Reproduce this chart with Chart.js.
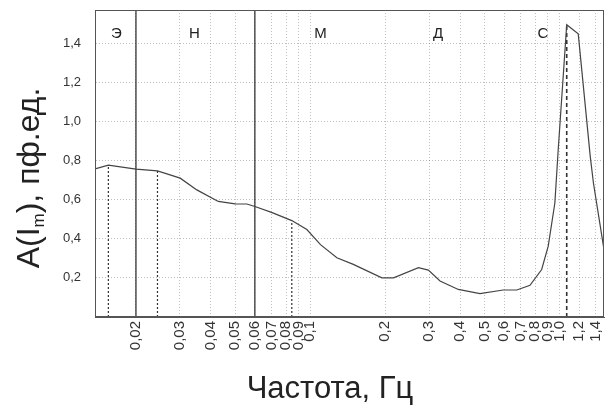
<!DOCTYPE html>
<html>
<head>
<meta charset="utf-8">
<script src="https://cdn.jsdelivr.net/npm/chart.js@4"></script>
<style>
  html, body { margin: 0; padding: 0; background: #fff; }
  #wrap { width: 608px; height: 408px; }
</style>
</head>
<body>
<div id="wrap"><canvas id="chart" width="608" height="408"></canvas></div>
<script>
// ---------- Data ----------
const freq = [0.0137, 0.0155, 0.02, 0.0244, 0.0301, 0.0351, 0.0428, 0.05, 0.0557, 0.06, 0.07, 0.0844, 0.097, 0.11,
  0.128, 0.149, 0.194, 0.216, 0.272, 0.298, 0.332, 0.393, 0.48, 0.595, 0.675, 0.762, 0.849, 0.902, 0.959, 0.989,
  1.07, 1.19, 1.33, 1.37, 1.51]; // Hz
const amp = [0.757, 0.777, 0.756, 0.747, 0.71, 0.65, 0.591, 0.579, 0.578, 0.565, 0.535, 0.493, 0.447, 0.37,
  0.303, 0.269, 0.2, 0.2, 0.252, 0.24, 0.184, 0.141, 0.12, 0.138, 0.138, 0.162, 0.243, 0.362, 0.583, 0.854,
  1.495, 1.448, 0.82, 0.684, 0.345]; // пф.ед.

const xTicks = [0.02, 0.03, 0.04, 0.05, 0.06, 0.07, 0.08, 0.09, 0.1, 0.2, 0.3, 0.4, 0.5, 0.6, 0.7, 0.8, 0.9, 1.0, 1.2, 1.4];
const xTickLabels = ["0,02", "0,03", "0,04", "0,05", "0,06", "0,07", "0,08", "0,09", "0,1", "0,2", "0,3", "0,4",
  "0,5", "0,6", "0,7", "0,8", "0,9", "1,0", "1,2", "1,4"];
const yTicks = [0.2, 0.4, 0.6, 0.8, 1.0, 1.2, 1.4];

const bandEdges = [0.02, 0.06];          // solid boundaries
const dropFreqs = [0.0155, 0.0244, 0.0844]; // dotted drop lines
const peakFreq = 1.07;                   // dashed line at peak

const bandNames = ["Э", "Н", "М", "Д", "С"];
const bandLabelX = [0.0167, 0.0343, 0.11, 0.326, 0.859];
const bandLabelY = 1.45;

const X_MIN = 0.0137, X_MAX = 1.51;
const Y_MIN = 0, Y_MAX = 1.57;

// ---------- Build datasets ----------
const ampAt = (f) => amp[freq.indexOf(f)];

const datasets = [
  {
    data: freq.map((f, i) => ({ x: f, y: amp[i] })),
    borderColor: "#444",
    borderWidth: 1.2,
    pointRadius: 0,
    tension: 0,
  },
];
bandEdges.forEach((f) => {
  datasets.push({
    data: [{ x: f, y: Y_MIN }, { x: f, y: Y_MAX }],
    borderColor: "#333",
    borderWidth: 1.3,
    pointRadius: 0,
  });
});
dropFreqs.forEach((f) => {
  datasets.push({
    data: [{ x: f, y: Y_MIN }, { x: f, y: ampAt(f) }],
    borderColor: "#333",
    borderWidth: 1.2,
    borderDash: [2, 2],
    pointRadius: 0,
  });
});
datasets.push({
  data: [{ x: peakFreq, y: Y_MIN }, { x: peakFreq, y: ampAt(peakFreq) }],
  borderColor: "#333",
  borderWidth: 1.6,
  borderDash: [4, 3],
  pointRadius: 0,
});

// ---------- Extras: frame, band labels, axis titles ----------
const extras = {
  id: "extras",
  afterDraw(chart) {
    const { ctx, chartArea: a, scales } = chart;
    ctx.save();
    ctx.strokeStyle = "#555";
    ctx.lineWidth = 1;
    ctx.strokeRect(a.left + 0.5, a.top + 0.5, a.right - a.left - 1, a.bottom - a.top - 1);

    ctx.fillStyle = "#222";
    ctx.font = "15px 'Liberation Sans', Arial, sans-serif";
    ctx.textAlign = "center";
    ctx.textBaseline = "middle";
    bandNames.forEach((n, i) => {
      ctx.fillText(n, scales.x.getPixelForValue(bandLabelX[i]), scales.y.getPixelForValue(bandLabelY));
    });

    // x title
    ctx.font = "31px 'Liberation Sans', Arial, sans-serif";
    ctx.textBaseline = "alphabetic";
    ctx.fillText("Частота, Гц", 330, 398);

    // y title with subscript
    ctx.translate(39, 178);
    ctx.rotate(-Math.PI / 2);
    const big = "32px 'Liberation Sans', Arial, sans-serif";
    const small = "17px 'Liberation Sans', Arial, sans-serif";
    const parts = [["A(I", big, 0], ["m", small, 5], ["), пф.ед.", big, 0]];
    let total = 0;
    parts.forEach(([t, f]) => { ctx.font = f; total += ctx.measureText(t).width; });
    let x = -total / 2;
    ctx.textAlign = "left";
    parts.forEach(([t, f, dy]) => {
      ctx.font = f;
      ctx.fillText(t, x, dy);
      x += ctx.measureText(t).width;
    });
    ctx.restore();
  },
};

// ---------- Chart ----------
new Chart(document.getElementById("chart"), {
  type: "line",
  data: { datasets },
  options: {
    responsive: false,
    animation: false,
    layout: { padding: { top: 10, right: 4, left: 0, bottom: 0 } },
    plugins: { legend: { display: false }, tooltip: { enabled: false } },
    scales: {
      x: {
        type: "logarithmic",
        min: X_MIN,
        max: X_MAX,
        afterBuildTicks: (s) => { s.ticks = xTicks.map((v) => ({ value: v })); },
        afterFit: (s) => { s.height = 91; s.paddingLeft = 0; s.paddingRight = 0; },
        ticks: {
          autoSkip: false,
          minRotation: 90,
          maxRotation: 90,
          padding: 4,
          color: "#333",
          font: { family: "'Liberation Sans', Arial, sans-serif", size: 15 },
          callback: (v, i) => xTickLabels[i],
        },
        grid: { color: "rgba(0,0,0,0.25)", lineWidth: 1, drawTicks: false },
        border: { display: true, color: "#555", dash: [1, 2] },
      },
      y: {
        type: "linear",
        min: Y_MIN,
        max: Y_MAX,
        afterBuildTicks: (s) => { s.ticks = yTicks.map((v) => ({ value: v })); },
        afterFit: (s) => { s.width = 95; s.paddingTop = 0; s.paddingBottom = 0; },
        ticks: {
          padding: 14,
          color: "#333",
          font: { family: "'Liberation Sans', Arial, sans-serif", size: 13 },
          callback: (v) => v.toFixed(1).replace(".", ","),
        },
        grid: { color: "rgba(0,0,0,0.25)", lineWidth: 1, drawTicks: false },
        border: { display: true, color: "#555", dash: [1, 2] },
      },
    },
  },
  plugins: [extras],
});
</script>
</body>
</html>
